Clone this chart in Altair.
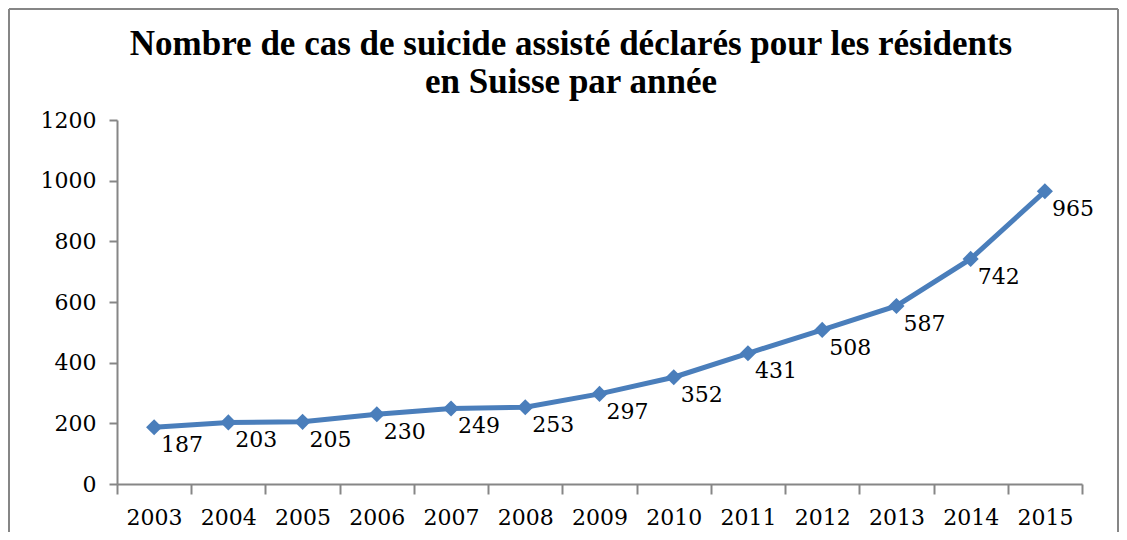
import altair as alt
import pandas as pd

years = ["2003", "2004", "2005", "2006", "2007", "2008", "2009",
         "2010", "2011", "2012", "2013", "2014", "2015"]
cases = [187, 203, 205, 230, 249, 253, 297, 352, 431, 508, 587, 742, 965]
y_ticks = [0, 200, 400, 600, 800, 1000, 1200]
title_lines = ["Nombre de cas de suicide assisté déclarés pour les résidents",
               "en Suisse par année"]

df = pd.DataFrame({"year": years, "cases": cases})
one = pd.DataFrame({"k": [0]})

BLUE = "#4A7EBB"
GREY = "#868686"
FONT = "DejaVu Serif"

x_enc = alt.X("year:N", sort=years,
              scale=alt.Scale(type="band", paddingInner=0, paddingOuter=0),
              axis=alt.Axis(title=None, labelAngle=0, tickBand="extent",
                            labelFont=FONT, labelFontSize=22, labelColor="#000000",
                            labelPadding=13, tickSize=10, tickWidth=2, tickColor=GREY,
                            domainColor=GREY, domainWidth=2))
y_enc = alt.Y("cases:Q",
              scale=alt.Scale(domain=[0, 1200], nice=False, zero=True),
              axis=alt.Axis(title=None, values=y_ticks, grid=False, format="d",
                            labelFont=FONT, labelFontSize=22, labelColor="#000000",
                            labelPadding=13, tickSize=8, tickWidth=2, tickColor=GREY,
                            domainColor=GREY, domainWidth=2))

base = alt.Chart(df)

line = base.mark_line(color=BLUE, strokeWidth=5).encode(x=x_enc, y=y_enc)
points = base.mark_point(shape="diamond", filled=True, size=260, color=BLUE,
                         opacity=1).encode(x=x_enc, y=y_enc)
labels = base.mark_text(align="left", baseline="middle", dx=7, dy=18,
                        font=FONT, fontSize=22, color="#000000").encode(
    x=x_enc, y=y_enc, text=alt.Text("cases:Q"))

deco = alt.Chart(one)
frame_left = deco.mark_rule(color=GREY, strokeWidth=2).encode(
    x=alt.value(-108), y=alt.value(-111), y2=alt.value(440))
frame_top = deco.mark_rule(color=GREY, strokeWidth=2).encode(
    x=alt.value(-108), x2=alt.value(1001), y=alt.value(-111))
frame_right = deco.mark_rule(color=GREY, strokeWidth=2).encode(
    x=alt.value(1001), y=alt.value(-111), y2=alt.value(440))
title = deco.mark_text(text=title_lines, font="Liberation Serif", fontSize=35,
                       fontWeight="bold", color="#000000", align="center",
                       baseline="alphabetic", lineHeight=38).encode(
    x=alt.value(454), y=alt.value(-65))

chart = alt.layer(frame_left, frame_top, frame_right, title, line, points, labels).properties(
    width=965, height=364,
    autosize=alt.AutoSizeParams(type="none"),
    padding={"left": 109, "top": 112, "right": 37, "bottom": 48},
).configure(background="#ffffff").configure_view(stroke=None)

chart.save("out.html", embed_options={"renderer": "svg", "actions": False})
